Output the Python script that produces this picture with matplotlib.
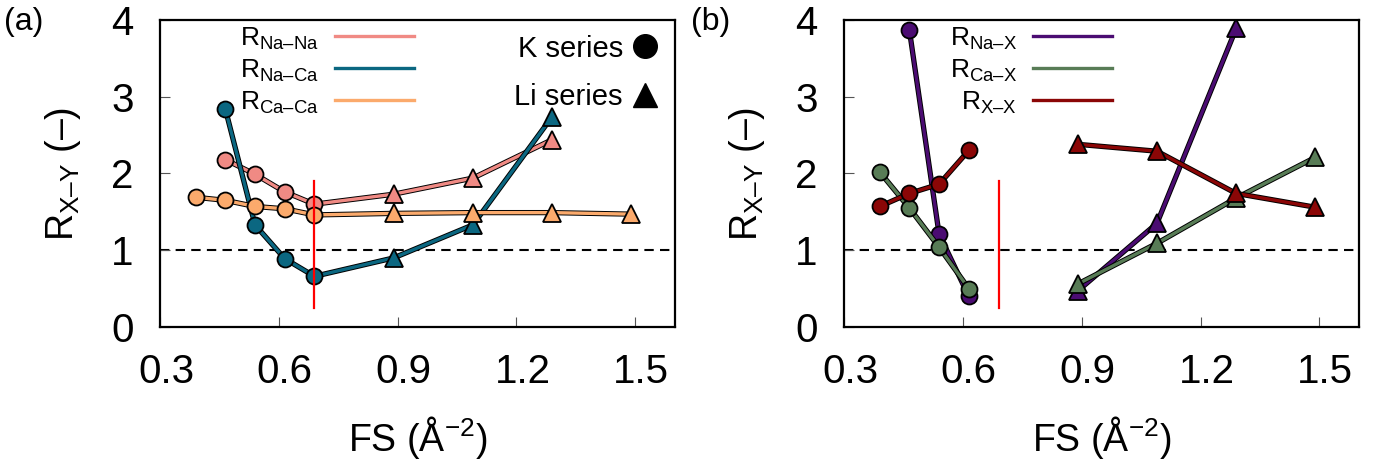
import matplotlib
matplotlib.use('Agg')
import matplotlib.pyplot as plt
import matplotlib.patheffects as pe
import matplotlib.transforms as mtrans
from matplotlib.lines import Line2D

plt.rcParams['font.family'] = ['Liberation Sans', 'DejaVu Sans']
plt.rcParams['mathtext.fontset'] = 'custom'
plt.rcParams['mathtext.rm'] = 'Liberation Sans'
plt.rcParams['mathtext.it'] = 'Liberation Sans:italic'

# FS values of the two series
fs_k = [0.39, 0.465, 0.54, 0.615, 0.69]
fs_li = [0.89, 1.09, 1.29, 1.49]

# panel (a): K series + Li series joined in one curve
r_nana = [None, 2.18, 1.99, 1.76, 1.60, 1.73, 1.94, 2.44, None]
r_naca = [None, 2.84, 1.33, 0.89, 0.66, 0.90, 1.33, 2.74, None]
r_caca = [1.69, 1.65, 1.57, 1.54, 1.46, 1.48, 1.49, 1.49, 1.47]

# panel (b): K and Li series drawn separately
fs_k_b = [0.39, 0.465, 0.54, 0.615]
nax_k = [None, 3.87, 1.21, 0.40]
cax_k = [2.02, 1.55, 1.04, 0.50]
xx_k = [1.57, 1.74, 1.86, 2.30]
nax_li = [0.47, 1.35, 3.89, None]
cax_li = [0.56, 1.09, 1.68, 2.21]
xx_li = [2.38, 2.29, 1.74, 1.56]

c_nana = '#f08a84'
c_naca = '#0b6781'
c_caca = '#fbaa6c'
c_nax = '#4b0c72'
c_cax = '#587c56'
c_xx = '#8b0606'

outline = [pe.Stroke(linewidth=3.8, foreground='black'), pe.Normal()]


def pts(xs, ys):
    keep = [(x, y) for x, y in zip(xs, ys) if y is not None]
    return [p[0] for p in keep], [p[1] for p in keep]


def draw(ax, xs, ys, color, marker, line=True):
    x, y = pts(xs, ys)
    if line:
        ax.plot(x, y, color=color, lw=2.4, path_effects=outline)
    ax.plot(x, y, ls='none', marker=marker, ms=11.5 if marker == 'o' else 12.5,
            mfc=color, mec='black', mew=1.3)


def sub(s):
    return 'R$_{\\mathrm{' + s + '}}$'


fig = plt.figure(figsize=(13.85, 4.7), dpi=100)
ax_a = fig.add_axes([0.1155, 0.3043, 0.3718, 0.6532])
ax_b = fig.add_axes([0.6094, 0.3043, 0.3718, 0.6532])

fs_all = fs_k + fs_li
for ys, col in [(r_nana, c_nana), (r_naca, c_naca), (r_caca, c_caca)]:
    x, y = pts(fs_all, ys)
    ax_a.plot(x, y, color=col, lw=2.4, path_effects=outline)
    draw(ax_a, fs_k, ys[:5], col, 'o', line=False)
    draw(ax_a, fs_li, ys[5:], col, '^', line=False)

for ks, ls_, col in [(nax_k, nax_li, c_nax), (cax_k, cax_li, c_cax),
                     (xx_k, xx_li, c_xx)]:
    draw(ax_b, fs_k_b, ks, col, 'o')
    draw(ax_b, fs_li, ls_, col, '^')

offset = mtrans.ScaledTranslation(6 / 100, 0, fig.dpi_scale_trans)
for ax in (ax_a, ax_b):
    ax.axhline(1.0, color='black', lw=1.5, dashes=[4.5, 3], zorder=1)
    ax.plot([0.69, 0.69], [0.25, 1.9], color='red', lw=1.6, zorder=10)
    ax.set_xlim(0.3, 1.6)
    ax.set_ylim(0, 4)
    ax.set_xticks([0.3, 0.6, 0.9, 1.2, 1.5])
    ax.set_yticks([0, 1, 2, 3, 4])
    ax.set_xticklabels(['0.3', '0.6', '0.9', '1.2', '1.5'])
    ax.tick_params(direction='in', length=7, width=0.8, color='#555555',
                   labelsize=29, pad=19, top=False, right=False)
    for lab in ax.get_xticklabels():
        lab.set_transform(lab.get_transform() + offset)
    for sp in ax.spines.values():
        sp.set_linewidth(1.6)
    ax.set_xlabel('FS (Å$^{\\mathrm{\u2212}2}$)', fontsize=27, labelpad=16)
    ax.set_ylabel(sub('X\u2013Y') + ' (\u2013)', fontsize=27, labelpad=20)

fig.text(0.003, 0.985, '(a)', fontsize=23, va='top', ha='left')
fig.text(0.499, 0.985, '(b)', fontsize=23, va='top', ha='left')

# series legends
leg_a = ax_a.legend(
    [Line2D([], [], color=c, lw=2.4) for c in (c_nana, c_naca, c_caca)],
    [sub('Na\u2013Na'), sub('Na\u2013Ca'), sub('Ca\u2013Ca')],
    loc='upper left', bbox_to_anchor=(0.13, 1.025), frameon=False,
    fontsize=19, markerfirst=False, handlelength=3.0, labelspacing=0.22,
    handletextpad=0.6, borderpad=0)
ax_a.add_artist(leg_a)
ax_a.legend(
    [Line2D([], [], ls='none', marker='o', color='black', ms=17),
     Line2D([], [], ls='none', marker='^', color='black', ms=17)],
    ['K series', 'Li series'], loc='upper right', bbox_to_anchor=(0.995, 1.0),
    frameon=False, fontsize=21, markerfirst=False, handlelength=0.9,
    labelspacing=0.7, handletextpad=0.3, borderpad=0)

ax_b.legend(
    [Line2D([], [], color=c, lw=2.4) for c in (c_nax, c_cax, c_xx)],
    [sub('Na\u2013X'), sub('Ca\u2013X'), sub('X\u2013X')],
    loc='upper left', bbox_to_anchor=(0.18, 1.025), frameon=False,
    fontsize=19, handlelength=3.0, labelspacing=0.22, markerfirst=False,
    handletextpad=0.6, borderpad=0)

fig.savefig('out.png', dpi=100)
